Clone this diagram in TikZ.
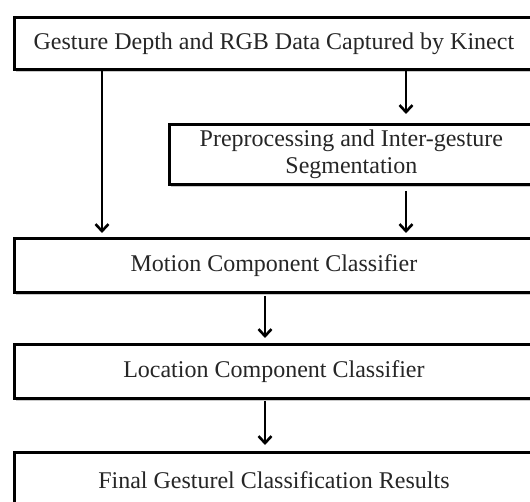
\documentclass[tikz,border=0pt]{standalone}
\usepackage{fontspec}
\setmainfont{Liberation Serif}
\usetikzlibrary{arrows.meta,shadows}
\begin{document}
\begin{tikzpicture}[x=1pt,y=1pt,
  box/.style={draw=black, line width=2.8pt, fill=white, anchor=north west, inner sep=0pt,
    align=center, text=black!85, font=\fontsize{24}{27}\selectfont,
    drop shadow={shadow xshift=1.5pt, shadow yshift=-3pt, fill=black!35, opacity=0.6}},
  arr/.style={line width=2.6pt, -{Straight Barb[length=7pt,width=13pt,line width=2.6pt]}}
]
\useasboundingbox (0,0) rectangle (530,501);
\fill[white] (0,0) rectangle (530,501);
\clip (0,0) rectangle (530,501);
\node[box, minimum width=519pt, minimum height=52pt] (b1) at (13,485) {Gesture Depth and RGB Data Captured by Kinect};
\node[box, minimum width=364pt, minimum height=60pt] (b2) at (168,378) {Preprocessing and Inter-gesture\\Segmentation};
\node[box, minimum width=519pt, minimum height=54pt] (b3) at (13,264) {Motion Component Classifier};
\node[box, minimum width=519pt, minimum height=54pt] (b4) at (13,158) {Location Component Classifier};
\node[box, minimum width=519pt, minimum height=56pt] (b5) at (13,50) {Final Gesturel Classification Results};
\coordinate (xl) at (102,0);
\coordinate (xr) at (406,0);
\coordinate (xm) at (265,0);
\draw[arr, shorten >=4pt] (b1.south -| xl) -- (b3.north -| xl);
\draw[arr, shorten >=9pt] (b1.south -| xr) -- (b2.north -| xr);
\draw[arr, shorten <=5pt, shorten >=4pt] (b2.south -| xr) -- (b3.north -| xr);
\draw[arr, shorten <=2pt, shorten >=5pt] (b3.south -| xm) -- (b4.north -| xm);
\draw[arr, shorten <=1pt, shorten >=6pt] (b4.south -| xm) -- (b5.north -| xm);
\end{tikzpicture}
\end{document}
